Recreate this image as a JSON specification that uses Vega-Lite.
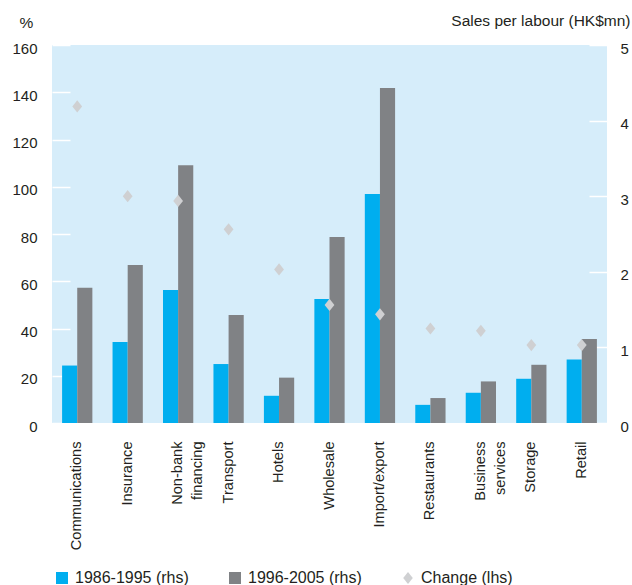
{
  "$schema": "https://vega.github.io/schema/vega-lite/v6.json",
  "width": 555,
  "height": 378,
  "autosize": {"type": "none"},
  "padding": {"left": 52, "top": 45, "right": 25, "bottom": 162},
  "background": "white",
  "config": {
    "view": {"fill": "#d6edfa", "stroke": null},
    "font": "Liberation Sans",
    "axis": {
      "domain": false,
      "grid": false,
      "labelFont": "Liberation Sans",
      "labelFontSize": 15,
      "labelColor": "#231f20",
      "titleFont": "Liberation Sans",
      "titleFontSize": 15.5,
      "titleFontWeight": "normal",
      "titleColor": "#231f20"
    },
    "legend": {
      "labelFont": "Liberation Sans",
      "labelFontSize": 16,
      "labelColor": "#231f20"
    }
  },
  "data": {
    "values": [
      {"sector": "Communications", "series": "1986-1995 (rhs)", "value": 0.76},
      {"sector": "Communications", "series": "1996-2005 (rhs)", "value": 1.79},
      {"sector": "Communications", "series": "Change (lhs)", "value": 134},
      {"sector": "Insurance", "series": "1986-1995 (rhs)", "value": 1.07},
      {"sector": "Insurance", "series": "1996-2005 (rhs)", "value": 2.09},
      {"sector": "Insurance", "series": "Change (lhs)", "value": 96},
      {"sector": "Non-bank financing", "series": "1986-1995 (rhs)", "value": 1.76},
      {"sector": "Non-bank financing", "series": "1996-2005 (rhs)", "value": 3.41},
      {"sector": "Non-bank financing", "series": "Change (lhs)", "value": 94},
      {"sector": "Transport", "series": "1986-1995 (rhs)", "value": 0.78},
      {"sector": "Transport", "series": "1996-2005 (rhs)", "value": 1.43},
      {"sector": "Transport", "series": "Change (lhs)", "value": 82},
      {"sector": "Hotels", "series": "1986-1995 (rhs)", "value": 0.36},
      {"sector": "Hotels", "series": "1996-2005 (rhs)", "value": 0.6},
      {"sector": "Hotels", "series": "Change (lhs)", "value": 65},
      {"sector": "Wholesale", "series": "1986-1995 (rhs)", "value": 1.64},
      {"sector": "Wholesale", "series": "1996-2005 (rhs)", "value": 2.46},
      {"sector": "Wholesale", "series": "Change (lhs)", "value": 50},
      {"sector": "Import/export", "series": "1986-1995 (rhs)", "value": 3.03},
      {"sector": "Import/export", "series": "1996-2005 (rhs)", "value": 4.43},
      {"sector": "Import/export", "series": "Change (lhs)", "value": 46},
      {"sector": "Restaurants", "series": "1986-1995 (rhs)", "value": 0.24},
      {"sector": "Restaurants", "series": "1996-2005 (rhs)", "value": 0.33},
      {"sector": "Restaurants", "series": "Change (lhs)", "value": 40},
      {"sector": "Business services", "series": "1986-1995 (rhs)", "value": 0.4},
      {"sector": "Business services", "series": "1996-2005 (rhs)", "value": 0.55},
      {"sector": "Business services", "series": "Change (lhs)", "value": 39},
      {"sector": "Storage", "series": "1986-1995 (rhs)", "value": 0.585},
      {"sector": "Storage", "series": "1996-2005 (rhs)", "value": 0.77},
      {"sector": "Storage", "series": "Change (lhs)", "value": 33},
      {"sector": "Retail", "series": "1986-1995 (rhs)", "value": 0.84},
      {"sector": "Retail", "series": "1996-2005 (rhs)", "value": 1.11},
      {"sector": "Retail", "series": "Change (lhs)", "value": 33}
    ]
  },
  "encoding": {
    "x": {
      "field": "sector",
      "type": "nominal",
      "sort": ["Communications", "Insurance", "Non-bank financing", "Transport", "Hotels", "Wholesale", "Import/export", "Restaurants", "Business services", "Storage", "Retail"],
      "scale": {"paddingInner": 0.4, "paddingOuter": 0.2},
      "axis": {
        "title": null,
        "labelAngle": -90,
        "ticks": false,
        "labelPadding": 18,
        "labelLineHeight": 20,
        "labelFontSize": 14.6,
        "labelExpr": "datum.label == 'Non-bank financing' ? ['Non-bank', 'financing'] : datum.label == 'Business services' ? ['Business', 'services'] : datum.label"
      }
    }
  },
  "layer": [
    {
      "transform": [{"filter": "datum.series !== 'Change (lhs)'"}],
      "mark": {"type": "bar"},
      "encoding": {
        "xOffset": {"field": "series", "type": "nominal", "scale": {"paddingInner": 0, "paddingOuter": 0}},
        "y": {
          "field": "value",
          "type": "quantitative",
          "scale": {"domain": [0, 5]},
          "axis": {
            "orient": "right",
            "values": [0, 1, 2, 3, 4, 5],
            "title": "Sales per labour (HK$mn)",
            "titleAngle": 0,
            "titleX": 23,
            "titleY": -25,
            "titleAlign": "right",
            "titleBaseline": "middle",
            "tickColor": "white",
            "tickSize": -18,
            "tickWidth": 1.5,
            "labelPadding": 31,
            "labelOffset": 3
          }
        },
        "color": {
          "field": "series",
          "type": "nominal",
          "scale": {"domain": ["1986-1995 (rhs)", "1996-2005 (rhs)", "Change (lhs)"], "range": ["#00aeef", "#808285", "#cfd0d2"]},
          "legend": {
            "title": null,
            "orient": "none",
            "direction": "horizontal",
            "legendX": 2,
            "legendY": 525,
            "padding": 0,
            "symbolSize": 144,
            "symbolStrokeWidth": 0,
            "labelOffset": 5,
            "columnPadding": 38
          }
        }
      }
    },
    {
      "transform": [{"filter": "datum.series === 'Change (lhs)'"}],
      "mark": {"type": "point", "filled": true, "opacity": 1, "size": 150, "strokeWidth": 0},
      "encoding": {
        "y": {
          "field": "value",
          "type": "quantitative",
          "scale": {"domain": [0, 160]},
          "axis": {
            "orient": "left",
            "values": [0, 20, 40, 60, 80, 100, 120, 140, 160],
            "title": "%",
            "titleAngle": 0,
            "titleX": -26,
            "titleY": -23,
            "titleAlign": "center",
            "titleBaseline": "middle",
            "tickColor": "white",
            "tickSize": -18,
            "tickWidth": 1.5,
            "labelPadding": 33,
            "labelOffset": 3
          }
        },
        "color": {
          "field": "series",
          "type": "nominal",
          "scale": {"domain": ["1986-1995 (rhs)", "1996-2005 (rhs)", "Change (lhs)"], "range": ["#00aeef", "#808285", "#cfd0d2"]}
        },
        "shape": {
          "field": "series",
          "type": "nominal",
          "scale": {"domain": ["1986-1995 (rhs)", "1996-2005 (rhs)", "Change (lhs)"], "range": ["square", "square", "M0,-1L0.8,0L0,1L-0.8,0Z"]}
        }
      }
    }
  ],
  "resolve": {"scale": {"y": "independent"}}
}
